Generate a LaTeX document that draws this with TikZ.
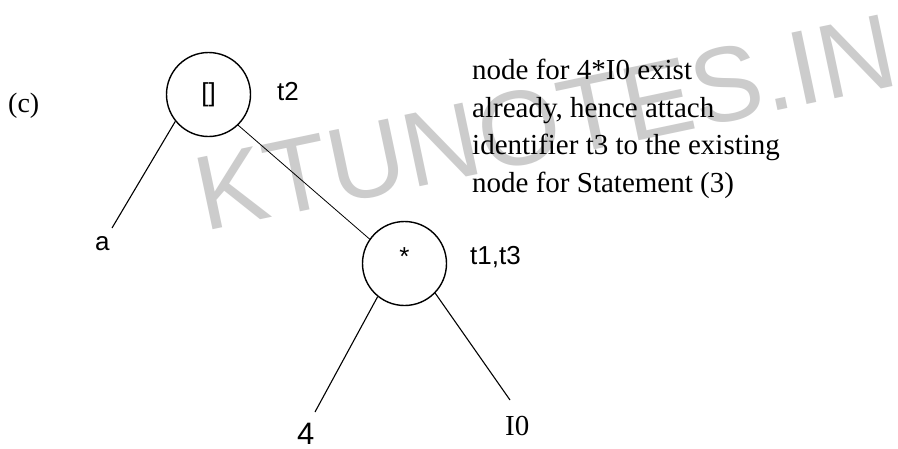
\documentclass[tikz,border=0pt]{standalone}
\usepackage{fontspec}
\setmainfont{Liberation Serif}
\newfontfamily\labsans{Liberation Sans}
\begin{document}
\begin{tikzpicture}[x=1pt,y=-1pt,
  opnode/.style={circle,draw,line width=1.4pt,minimum size=84pt,inner sep=0pt,font=\labsans\fontsize{26}{30}\selectfont},
  edge/.style={line width=1.1pt},
  lab/.style={anchor=base west,inner sep=0pt,font=\labsans\fontsize{26}{30}\selectfont},
  serlab/.style={anchor=base west,inner sep=0pt,font=\fontsize{29}{34}\selectfont},
  note/.style={anchor=north west,inner sep=0pt,align=left,font=\fontsize{29}{37.5}\selectfont},
  wmark/.style={anchor=base west,inner sep=0pt,text=black!20,rotate=11.9,font=\labsans\fontsize{106}{110}\selectfont}
]
\useasboundingbox (0,0) rectangle (898,448);
\fill[white] (0,0) rectangle (898,448);
% watermark
\node[wmark] (wm) at (204,232) {KTUNOTES.IN};
% label (c)
\node[serlab,font=\fontsize{28}{32}\selectfont] (clab) at (8,112) {(c)};
% operator nodes
\node[opnode] (c1) at (208.5,94.5) {\raisebox{3pt}{[]}};
\node[opnode] (c2) at (404.5,263.5) {\raisebox{14pt}{*}};
% identifier labels
\node[lab] (t2) at (277,100) {t2};
\node[lab] (t13) at (470,264) {t1,t3};
% leaves
\node[lab] (a) at (95,250) {a};
\node[lab,font=\labsans\fontsize{31}{34}\selectfont] (four) at (297,444) {4};
\node[serlab] (i0) at (505,435) {I0};
% free ends of connectors
\coordinate (aend) at (112,228);
\coordinate (fend) at (315,412);
\coordinate (iend) at (510,400);
% connectors
\draw[edge] (c1.219) -- (aend);
\draw[edge,line width=0.8pt] (c1.314) -- (c2.145);
\draw[edge] (c2.231) -- (fend);
\draw[edge] (c2.316) -- (iend);
% note
\node[note] (txt) at (472,59) {node for 4*I0 exist\\already, hence attach\\identifier t3 to the existing\\node for Statement (3)};
\end{tikzpicture}
\end{document}
